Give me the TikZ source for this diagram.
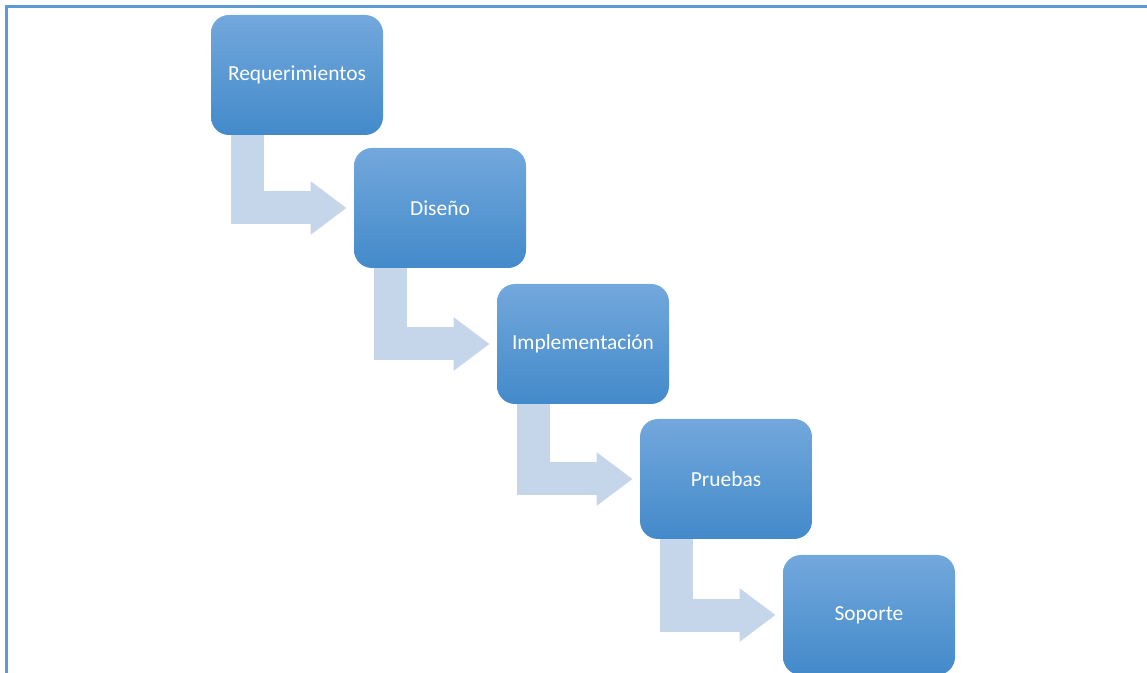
\documentclass[tikz,border=0pt]{standalone}
\usepackage{fontspec}
\setmainfont{Carlito}
\usetikzlibrary{positioning,arrows.meta}
\definecolor{frameblue}{RGB}{91,155,213}
\definecolor{boxtop}{RGB}{114,168,220}
\definecolor{boxmid}{RGB}{88,156,220}
\definecolor{boxbot}{RGB}{67,138,202}
\definecolor{flowgray}{RGB}{197,213,234}

\begin{document}
\begin{tikzpicture}[x=1cm,y=1cm, every node/.style={font=\fontsize{12.2}{14}\selectfont}]
  \tikzset{
    phase/.style={rounded corners=0.36cm, top color=boxtop, middle color=boxmid, bottom color=boxbot,
      minimum width=3.44cm, minimum height=2.4cm, text=white, inner sep=0pt},
    flow/.style={draw=flowgray, line width=0.66cm, line join=miter,
      -{Triangle[length=0.72cm, width=1.02cm]}, shorten >=0.14cm}
  }
  \clip (0,0) rectangle (22.94,-13.46);
  \useasboundingbox (0,0) rectangle (22.94,-13.46);
  % frame (top and left edge only)
  \draw[frameblue, line width=0.065cm] (0.135,-13.6) -- (0.135,-0.135) -- (23.1,-0.135);

  \node[phase] (req) at (5.94,-1.50) {Requerimientos};
  \node[phase] (dis) at (8.80,-4.16) {Diseño};
  \node[phase] (imp) at (11.66,-6.88) {Implementación};
  \node[phase] (pru) at (14.52,-9.58) {Pruebas};
  \node[phase] (sop) at (17.38,-12.30) {Soporte};

  \foreach \a/\b in {req/dis,dis/imp,imp/pru,pru/sop}
    \draw[flow] ([xshift=-0.99cm]\a.south) |- (\b.west);
\end{tikzpicture}
\end{document}
